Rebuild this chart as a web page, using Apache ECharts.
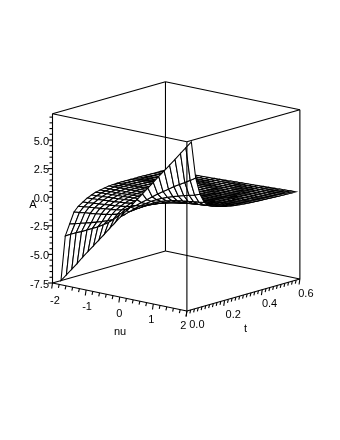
<!DOCTYPE html>
<html><head><meta charset="utf-8">
<style>html,body{margin:0;padding:0;background:#fff}#c{width:340px;height:440px}</style>
<script src="https://cdn.jsdelivr.net/npm/echarts@6/dist/echarts.min.js"></script>
</head><body><div id="c"></div>
<script>
const nuValues=[-2,-1.838,-1.677,-1.515,-1.353,-1.192,-1.03,-.868,-.707,-.545,-.383,-.222,-.06,.102,.263,.425,.587,.748,.91,1.072,1.233,1.395,1.557,1.718,1.88];
const tValues=[.045,.068,.091,.114,.137,.161,.184,.207,.23,.253,.276,.299,.322,.345,.368,.391,.415,.438,.461,.484,.507,.53,.553,.576,.6];
const valuesA=[
[-7.5,-6.9,-6.3,-5.7,-5.05,-4.45,-3.85,-3.25,-2.65,-2.03,-1.43,-.83,-.23,.37,.97,1.57,2.17,2.77,3.38,3.98,4.58,5.18,5.79,6.39,7],
[-3.7,-3.46,-3.23,-3.03,-2.79,-2.55,-2.32,-2.04,-1.73,-1.33,-.86,-.34,.01,.25,.6,.95,1.3,1.65,1.96,2.27,2.59,2.87,3.15,3.43,3.74],
[-2.77,-2.64,-2.51,-2.39,-2.25,-2.11,-1.96,-1.79,-1.59,-1.33,-.98,-.6,-.23,.12,.41,.7,.95,1.16,1.35,1.51,1.66,1.8,1.93,2.05,2.2],
[-1.83,-1.77,-1.7,-1.65,-1.59,-1.52,-1.44,-1.35,-1.22,-1.05,-.83,-.57,-.28,.02,.26,.5,.69,.84,.96,1.05,1.14,1.2,1.26,1.32,1.38],
[-1.43,-1.38,-1.32,-1.27,-1.22,-1.16,-1.11,-1.04,-.96,-.83,-.68,-.49,-.27,-.04,.16,.34,.49,.61,.71,.79,.85,.91,.95,1,1.05],
[-1.17,-1.13,-1.08,-1.04,-1,-.95,-.9,-.84,-.77,-.68,-.56,-.42,-.25,-.08,.08,.23,.35,.45,.53,.61,.66,.71,.76,.8,.85],
[-.93,-.89,-.86,-.82,-.79,-.75,-.71,-.66,-.6,-.53,-.44,-.34,-.22,-.1,.02,.14,.24,.33,.4,.47,.52,.57,.61,.66,.7],
[-.77,-.74,-.71,-.68,-.65,-.61,-.58,-.54,-.5,-.44,-.37,-.3,-.21,-.12,-.02,.08,.16,.24,.31,.36,.42,.46,.5,.55,.59],
[-.63,-.61,-.58,-.56,-.53,-.51,-.48,-.45,-.41,-.37,-.32,-.26,-.2,-.13,-.05,.03,.11,.18,.24,.29,.34,.39,.42,.46,.5],
[-.55,-.53,-.51,-.49,-.47,-.45,-.42,-.4,-.37,-.33,-.29,-.24,-.19,-.14,-.07,.01,.08,.14,.19,.24,.29,.33,.36,.4,.43],
[-.48,-.47,-.45,-.43,-.42,-.4,-.38,-.36,-.33,-.3,-.27,-.23,-.19,-.15,-.08,-.01,.05,.1,.15,.2,.24,.28,.31,.34,.37],
[-.42,-.41,-.4,-.38,-.37,-.35,-.34,-.32,-.3,-.28,-.25,-.22,-.19,-.16,-.1,-.04,.02,.07,.12,.16,.2,.23,.26,.29,.32],
[-.4,-.39,-.37,-.36,-.34,-.33,-.31,-.3,-.28,-.26,-.24,-.22,-.19,-.17,-.11,-.05,0,.05,.09,.13,.17,.2,.23,.25,.28],
[-.38,-.37,-.35,-.34,-.33,-.31,-.3,-.28,-.27,-.25,-.23,-.21,-.19,-.17,-.12,-.06,-.01,.03,.07,.11,.14,.17,.2,.22,.25],
[-.37,-.36,-.34,-.33,-.32,-.3,-.29,-.27,-.26,-.24,-.23,-.21,-.19,-.17,-.12,-.07,-.03,.01,.05,.09,.12,.15,.17,.2,.22],
[-.37,-.36,-.34,-.33,-.32,-.3,-.29,-.27,-.26,-.24,-.23,-.21,-.2,-.18,-.13,-.09,-.05,-.01,.03,.06,.09,.12,.14,.17,.19],
[-.37,-.36,-.34,-.33,-.32,-.3,-.29,-.27,-.26,-.24,-.23,-.21,-.2,-.18,-.14,-.1,-.06,-.02,.01,.04,.07,.1,.12,.15,.17],
[-.38,-.37,-.35,-.34,-.32,-.31,-.29,-.28,-.26,-.25,-.23,-.22,-.2,-.18,-.14,-.1,-.07,-.03,0,.03,.06,.08,.1,.13,.15],
[-.38,-.37,-.35,-.34,-.32,-.31,-.29,-.28,-.26,-.25,-.23,-.22,-.2,-.18,-.14,-.11,-.08,-.05,-.02,.01,.04,.06,.08,.11,.13],
[-.39,-.38,-.36,-.34,-.33,-.31,-.3,-.28,-.27,-.25,-.24,-.22,-.2,-.18,-.15,-.12,-.09,-.06,-.03,0,.02,.05,.07,.09,.11],
[-.4,-.38,-.37,-.35,-.34,-.32,-.3,-.29,-.27,-.26,-.24,-.22,-.2,-.18,-.15,-.12,-.09,-.07,-.04,-.01,.01,.03,.05,.07,.09],
[-.4,-.38,-.37,-.35,-.34,-.32,-.3,-.29,-.27,-.26,-.24,-.22,-.2,-.18,-.15,-.13,-.1,-.07,-.05,-.02,0,.02,.04,.06,.08],
[-.41,-.39,-.38,-.36,-.34,-.33,-.31,-.29,-.28,-.26,-.24,-.22,-.2,-.18,-.16,-.13,-.11,-.08,-.05,-.03,-.01,.01,.03,.05,.07],
[-.41,-.39,-.38,-.36,-.34,-.33,-.31,-.29,-.28,-.26,-.24,-.22,-.2,-.18,-.16,-.14,-.11,-.09,-.06,-.04,-.02,0,.02,.04,.05],
[-.42,-.4,-.38,-.36,-.35,-.33,-.31,-.3,-.28,-.26,-.24,-.22,-.2,-.18,-.16,-.14,-.12,-.09,-.07,-.05,-.03,-.01,.01,.03,.04]
];
const nuTicks=[-2,-1,0,1,2];
const nuTickLabels=['-2','-1','0','1','2'];
const tTicks=[0,.2,.4,.6];
const tTickLabels=['0.0','0.2','0.4','0.6'];
const aTicks=[-7.5,-5,-2.5,0,2.5,5];
const aTickLabels=['-7.5','-5.0','-2.5','0.0','2.5','5.0'];
const axisNames=['nu','t','A'];
const nuRange=[-2,2],tRange=[0,.6],aRange=[-7.5,7.3];

// parallel projection of the plot box on the page
function px(nu,t){return 52.5+(nu+2)*33.6+t*188.3;}
function py(nu,t,a){return 283+(nu+2)*7-t*53.3-(a+7.5)*11.44;}
function P(nu,t,a){return [px(nu,t),py(nu,t,a)];}

const [n0,n1]=nuRange,[t0,t1]=tRange,[a0,a1]=aRange;
function seg(p,q){return [p[0],p[1],q[0],q[1]];}
const backBox=[
 seg(P(n0,t1,a0),P(n0,t1,a1)),
 seg(P(n0,t0,a0),P(n0,t1,a0)),
 seg(P(n0,t1,a0),P(n1,t1,a0)),
 seg(P(n0,t0,a1),P(n0,t1,a1)),
 seg(P(n0,t1,a1),P(n1,t1,a1))
];
const frontBox=[
 seg(P(n0,t0,a0),P(n0,t0,a1)),
 seg(P(n1,t0,a0),P(n1,t0,a1)),
 seg(P(n1,t1,a0),P(n1,t1,a1)),
 seg(P(n0,t0,a1),P(n1,t0,a1)),
 seg(P(n1,t0,a1),P(n1,t1,a1)),
 seg(P(n0,t0,a0),P(n1,t0,a0)),
 seg(P(n1,t0,a0),P(n1,t1,a0))
];
for(let k=0;k<=29;k++){const a=-7.5+k*.5;const p=P(n0,t0,a);const major=k%5===0;frontBox.push([p[0],p[1],p[0]-(major?4.5:3),p[1]]);}
for(let k=0;k<=20;k++){const nu=-2+k*.2;const p=P(nu,t0,a0);const major=k%5===0;frontBox.push([p[0],p[1],p[0]-.8,p[1]+(major?5.5:3.5)]);}
for(let k=0;k<=30;k++){const t=k*.02;const p=P(n1,t,a0);const major=k%10===0;frontBox.push([p[0],p[1],p[0]-.8,p[1]+(major?5.5:3.5)]);}

const cells=[];
for(let j=tValues.length-2;j>=0;j--){
 for(let i=0;i<nuValues.length-1;i++){
  const c=[[i,j],[i+1,j],[i+1,j+1],[i,j+1]].map(([a,b])=>P(nuValues[a],tValues[b],valuesA[b][a]));
  cells.push(c.flat());
 }
}
const texts=[];
nuTicks.forEach((v,k)=>{const d=v+2,p=P(v,t0,a0);texts.push([p[0]+2.5-1.5*d,p[1]+18-.75*d,nuTickLabels[k],'center']);});
tTicks.forEach((v,k)=>{const p=P(n1,v,a0);texts.push([p[0]+10-6.7*v,p[1]+14+1.5*v,tTickLabels[k],'center']);});
aTicks.forEach((v,k)=>{const p=P(n0,t0,v);texts.push([p[0]-3.5,p[1]+1.5,aTickLabels[k],'right']);});
texts.push([120,332,axisNames[0],'center'],[245.5,329,axisNames[1],'center'],[33,204.5,axisNames[2],'center']);

function lineSeries(data,z){return {type:'custom',coordinateSystem:'cartesian2d',z,silent:true,clip:false,data,
 encode:{x:[0,2],y:[1,3]},
 renderItem(par,api){const a=api.coord([api.value(0),api.value(1)]),b=api.coord([api.value(2),api.value(3)]);
  return {type:'line',shape:{x1:a[0],y1:a[1],x2:b[0],y2:b[1]},style:{stroke:'#000',lineWidth:1.1,fill:null}};}};}

const chart=echarts.init(document.getElementById('c'),null,{renderer:'canvas'});
chart.setOption({animation:false,backgroundColor:'#fff',
 grid:{left:0,right:0,top:0,bottom:0},
 xAxis:{type:'value',min:0,max:340,show:false},
 yAxis:{type:'value',min:0,max:440,inverse:true,show:false},
 series:[
  lineSeries(backBox,1),
  {type:'custom',coordinateSystem:'cartesian2d',z:2,silent:true,clip:false,data:cells,
   encode:{x:[0,2,4,6],y:[1,3,5,7]},
   renderItem(par,api){const pts=[0,2,4,6].map(k=>api.coord([api.value(k),api.value(k+1)]));
    return {type:'polygon',shape:{points:pts},style:{fill:'#fff',stroke:'#000',lineWidth:1.05}};}},
  lineSeries(frontBox,3),
  {type:'custom',coordinateSystem:'cartesian2d',z:4,silent:true,clip:false,
   data:texts.map((r,i)=>[r[0],r[1],i]),encode:{x:0,y:1},
   renderItem(par,api){const i=api.value(2),r=texts[i],p=api.coord([r[0],r[1]]);
    return {type:'text',x:p[0],y:p[1],style:{text:r[2],textAlign:r[3],textVerticalAlign:'middle',font:'11px "Liberation Sans"',fill:'#000'}};}}
 ]});
</script></body></html>
